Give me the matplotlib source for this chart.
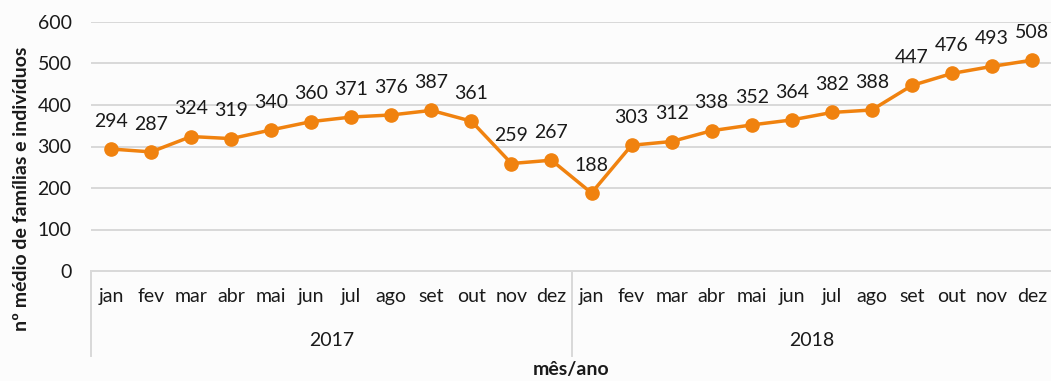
import numpy as np
import matplotlib.pyplot as plt
from matplotlib import transforms

plt.rcParams['font.family'] = ['Lato', 'DejaVu Sans']

# average number of families/individuals per month
months = ['jan', 'fev', 'mar', 'abr', 'mai', 'jun',
          'jul', 'ago', 'set', 'out', 'nov', 'dez']
years = ['2017', '2018']
values_2017 = [294, 287, 324, 319, 340, 360, 371, 376, 387, 361, 259, 267]
values_2018 = [188, 303, 312, 338, 352, 364, 382, 388, 447, 476, 493, 508]
yticks = [0, 100, 200, 300, 400, 500, 600]

values = values_2017 + values_2018
x = np.arange(len(values))
tick_labels = months * len(years)

ORANGE = '#F0820F'
GRID = '#D9D9D9'
BG = '#FCFCFC'
TXT = '#1a1a1a'
FS = 14

W, H = 1051, 381
fig = plt.figure(figsize=(W / 100, H / 100), dpi=100, facecolor=BG)
ax = fig.add_axes([91 / W, (H - 271) / H, (1052 - 91) / W, (271 - 22) / H])
ax.set_facecolor(BG)

ax.plot(x, values, color=ORANGE, lw=2.5, marker='o', ms=9.5, zorder=3)
for xi, v in zip(x, values):
    ax.annotate(str(v), (xi, v), xytext=(0, 20), textcoords='offset points',
                ha='center', va='center', fontsize=FS, color=TXT)

ax.set_xlim(-0.5, len(values) - 0.5)
ax.set_ylim(0, 600)
ax.set_yticks(yticks)
ax.yaxis.grid(True, color=GRID, lw=1.4)
ax.set_axisbelow(True)
for side in ['left', 'right', 'top']:
    ax.spines[side].set_visible(False)
ax.spines['bottom'].set_color(GRID)
ax.spines['bottom'].set_linewidth(1.4)

ax.set_xticks(x)
ax.set_xticklabels(tick_labels)
ax.tick_params(axis='x', length=0, pad=12, labelsize=FS, colors=TXT)
ax.tick_params(axis='y', length=0, pad=14, labelsize=FS, colors=TXT)

# second level of the category axis: years and separators
trans = transforms.blended_transform_factory(ax.transData, ax.transAxes)
n = len(months)
for i, yr in enumerate(years):
    start = i * n - 0.5
    ax.text(start + n / 2, -0.28, yr, transform=trans, ha='center', va='center',
            fontsize=FS, color=TXT)
    ax.plot([start, start], [0, -0.34], transform=trans, color=GRID, lw=1.4,
            clip_on=False)

ax.set_ylabel('nº médio de famílias e indivíduos', fontsize=FS,
              fontweight='bold', color=TXT)
ax.yaxis.set_label_coords(-0.063, 0.33)
fig.text((91 + 1052) / 2 / W, 1 - 370 / H, 'mês/ano', ha='center', va='center',
         fontsize=FS, fontweight='bold', color=TXT)

fig.savefig('out.png', dpi=100, facecolor=BG)
